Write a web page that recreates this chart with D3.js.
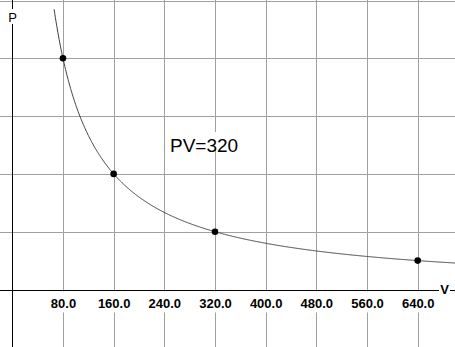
<!DOCTYPE html>
<html>
<head>
<meta charset="utf-8">
<script src="https://cdn.jsdelivr.net/npm/d3@7"></script>
<style>
  html, body { margin: 0; padding: 0; background: #fff; }
  svg { display: block; }
</style>
</head>
<body>
<svg id="chart" width="455" height="347"></svg>
<script>
// ---- data ----
const xTicks = [80, 160, 240, 320, 400, 480, 560, 640];
const xTickLabels = ["80.0", "160.0", "240.0", "320.0", "400.0", "480.0", "560.0", "640.0"];
const yGrid = [1, 2, 3, 4, 5];
const pointV = [80, 160, 320, 640];
const pointP = [4, 2, 1, 0.5];
const PV = 320;               // constant of the plotted curve P = PV / V
const curveRange = [66, 700]; // V range over which the curve is drawn
const labelText = "PV=320";

const W = 455, H = 347;
const svg = d3.select("#chart");

const x = d3.scaleLinear().domain([0, 640]).range([12.3, 417.7]);
const y = d3.scaleLinear().domain([0, 5]).range([289.5, 0.5]);

const gridColor = "#a0a0a0";

// horizontal grid
svg.append("g").selectAll("line").data(yGrid).join("line")
  .attr("x1", 0).attr("x2", W)
  .attr("y1", d => Math.round(y(d)) + 0.5).attr("y2", d => Math.round(y(d)) + 0.5)
  .attr("stroke", gridColor).attr("stroke-width", 1);

// vertical grid
svg.append("g").selectAll("line").data(xTicks).join("line")
  .attr("x1", d => Math.round(x(d)) + 0.5).attr("x2", d => Math.round(x(d)) + 0.5)
  .attr("y1", 0).attr("y2", H)
  .attr("stroke", gridColor).attr("stroke-width", 1);

// axes
const x0 = Math.round(x(0)) + 0.5, y0 = Math.round(y(0)) + 0.5;
svg.append("line").attr("x1", x0).attr("x2", x0).attr("y1", 0).attr("y2", H)
  .attr("stroke", "#000").attr("stroke-width", 1);
svg.append("line").attr("x1", 0).attr("x2", W).attr("y1", y0).attr("y2", y0)
  .attr("stroke", "#000").attr("stroke-width", 1);

// curve P = PV / V
const vSamples = d3.range(curveRange[0], curveRange[1] + 1, 1);
const line = d3.line().x(v => x(v)).y(v => y(PV / v));
svg.append("path").datum(vSamples)
  .attr("d", line).attr("fill", "none")
  .attr("stroke", "#404040").attr("stroke-width", 1);

// points
svg.append("g").selectAll("circle").data(pointV).join("circle")
  .attr("cx", d => x(d)).attr("cy", (d, i) => y(pointP[i]))
  .attr("r", 3.3).attr("fill", "#000");

// tick labels with white backgrounds
const tickG = svg.append("g").selectAll("g").data(xTicks).join("g");
tickG.append("rect")
  .attr("x", (d, i) => x(d) - (xTickLabels[i].length * 7.3) / 2 - 2)
  .attr("width", (d, i) => xTickLabels[i].length * 7.3 + 4)
  .attr("y", y0 + 1).attr("height", 21).attr("fill", "#fff");
tickG.append("text")
  .attr("x", d => x(d) + 0.5).attr("y", 307.5)
  .attr("text-anchor", "middle")
  .attr("font-family", "Liberation Sans, Arial, sans-serif")
  .attr("font-weight", "bold").attr("font-size", 13)
  .attr("fill", "#000")
  .text((d, i) => xTickLabels[i]);

// axis names
svg.append("rect").attr("x", 7).attr("y", 9).attr("width", 11).attr("height", 15).attr("fill", "#fff");
svg.append("text").attr("x", 12.5).attr("y", 22).attr("text-anchor", "middle")
  .attr("font-family", "Liberation Sans, Arial, sans-serif").attr("font-size", 13)
  .attr("fill", "#000").text("P");

svg.append("rect").attr("x", 439).attr("y", 282).attr("width", 11).attr("height", 13).attr("fill", "#fff");
svg.append("text").attr("x", 444.5).attr("y", 294).attr("text-anchor", "middle")
  .attr("font-family", "Liberation Sans, Arial, sans-serif").attr("font-weight", "bold").attr("font-size", 13)
  .attr("fill", "#000").text("V");

// PV=320 label with white box
svg.append("rect").attr("x", 167).attr("y", 132).attr("width", 75).attr("height", 18).attr("fill", "#fff");
svg.append("text").attr("x", 170).attr("y", 152)
  .attr("font-family", "Liberation Sans, Arial, sans-serif").attr("font-size", 19)
  .attr("fill", "#000").text(labelText);
</script>
</body>
</html>
